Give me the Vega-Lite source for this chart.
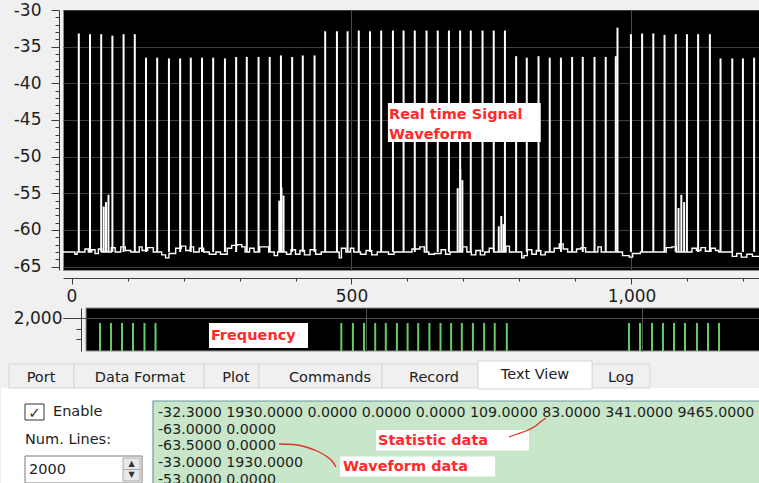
{
  "$schema": "https://vega.github.io/schema/vega-lite/v6.json",
  "background": "#f0f0f0",
  "padding": {"left": 0, "top": 0, "right": 0, "bottom": 0},
  "spacing": 2,
  "config": {
    "font": "DejaVu Sans",
    "axis": {"labelFont": "DejaVu Sans", "labelColor": "#1e1e1e", "domainColor": "#3c3c3c", "tickColor": "#3c3c3c", "gridColor": "#3f3f3f", "gridWidth": 1, "labelFontSize": 17, "labelOverlap": false, "labelBound": false, "labelFlush": false}
  },
  "datasets": {
    "spikes": [
      {"x":13,"y":-33.2},{"x":33,"y":-33.3},{"x":53,"y":-33.3},{"x":73,"y":-33.5},{"x":93,"y":-33.3},{"x":113,"y":-33.3},
      {"x":133,"y":-36.5},{"x":153,"y":-36.5},{"x":174,"y":-36.6},{"x":194,"y":-36.6},{"x":213,"y":-36.5},{"x":233,"y":-36.5},{"x":253,"y":-36.5},{"x":274,"y":-36.6},{"x":294,"y":-36.4},{"x":313,"y":-36.4},{"x":334,"y":-36.4},{"x":354,"y":-36.4},{"x":374,"y":-36.2},{"x":394,"y":-36.4},{"x":413,"y":-36.2},{"x":434,"y":-36.2},
      {"x":453,"y":-32.9},{"x":474,"y":-32.9},{"x":493,"y":-32.9},{"x":513,"y":-32.8},{"x":533,"y":-32.9},{"x":553,"y":-32.8},{"x":574,"y":-32.8},{"x":593,"y":-32.8},{"x":613,"y":-32.8},{"x":634,"y":-32.8},{"x":654,"y":-32.8},{"x":674,"y":-32.8},{"x":694,"y":-32.8},{"x":713,"y":-32.8},{"x":734,"y":-32.8},{"x":754,"y":-32.8},{"x":774,"y":-32.8},
      {"x":794,"y":-36.3},{"x":813,"y":-36.5},{"x":834,"y":-36.3},{"x":854,"y":-36.5},{"x":874,"y":-36.5},{"x":894,"y":-36.4},{"x":913,"y":-36.4},{"x":934,"y":-36.4},{"x":954,"y":-36.4},
      {"x":972,"y":-36.3},{"x":975,"y":-32.4},
      {"x":999,"y":-33.3},{"x":1019,"y":-33.2},{"x":1039,"y":-33.2},{"x":1059,"y":-33.4},{"x":1079,"y":-33.3},{"x":1099,"y":-33.3},{"x":1119,"y":-33.3},{"x":1140,"y":-33.3},
      {"x":1159,"y":-36.6},{"x":1180,"y":-36.6},{"x":1199,"y":-36.6},{"x":1219,"y":-36.5},
      {"x":57.5,"y":-56.8},{"x":61.6,"y":-56.2},{"x":66,"y":-55.2},
      {"x":371,"y":-56.0},{"x":375,"y":-54.2},{"x":378.6,"y":-55.3},
      {"x":689.6,"y":-54.3},{"x":694.3,"y":-51.7},{"x":698,"y":-53.2},
      {"x":763,"y":-59.5},{"x":767.5,"y":-58.1},{"x":771.4,"y":-59.2},
      {"x":1084,"y":-57.0},{"x":1089,"y":-55.2},{"x":1094,"y":-56.2}
    ],
    "baseline": [
      {"x":-16,"y":-63.0},{"x":0,"y":-63.0},{"x":6,"y":-63.3},{"x":10,"y":-63.0},{"x":24,"y":-62.6},{"x":30,"y":-63.0},{"x":36,"y":-62.7},{"x":42,"y":-63.2},{"x":48,"y":-62.6},{"x":54,"y":-63.0},{"x":71,"y":-62.4},{"x":78,"y":-63.0},{"x":88,"y":-62.3},{"x":96,"y":-62.8},{"x":106,"y":-63.0},{"x":121,"y":-62.3},{"x":126,"y":-62.8},{"x":136,"y":-62.4},{"x":146,"y":-63.0},{"x":161,"y":-63.4},{"x":168,"y":-63.8},{"x":174,"y":-63.2},{"x":186,"y":-62.5},{"x":196,"y":-62.2},{"x":204,"y":-62.8},{"x":212,"y":-62.3},{"x":218,"y":-63.0},{"x":228,"y":-62.5},{"x":236,"y":-63.0},{"x":246,"y":-63.3},{"x":258,"y":-63.0},{"x":266,"y":-63.3},{"x":278,"y":-62.5},{"x":286,"y":-62.1},{"x":296,"y":-62.0},{"x":304,"y":-62.3},{"x":310,"y":-63.0},{"x":318,"y":-62.5},{"x":326,"y":-63.0},{"x":336,"y":-62.3},{"x":348,"y":-62.3},{"x":352,"y":-63.0},{"x":362,"y":-63.5},{"x":368,"y":-63.0},{"x":384,"y":-63.3},{"x":392,"y":-62.7},{"x":400,"y":-63.3},{"x":408,"y":-62.8},{"x":416,"y":-63.4},{"x":426,"y":-62.7},{"x":436,"y":-63.3},{"x":446,"y":-63.0},{"x":466,"y":-63.0},{"x":478,"y":-63.8},{"x":482,"y":-62.5},{"x":490,"y":-63.0},{"x":498,"y":-62.5},{"x":504,"y":-63.0},{"x":516,"y":-63.3},{"x":526,"y":-62.8},{"x":536,"y":-63.4},{"x":546,"y":-63.0},{"x":566,"y":-63.3},{"x":576,"y":-63.0},{"x":596,"y":-63.0},{"x":608,"y":-62.6},{"x":622,"y":-62.3},{"x":630,"y":-63.0},{"x":638,"y":-63.3},{"x":648,"y":-63.2},{"x":660,"y":-62.7},{"x":668,"y":-63.3},{"x":676,"y":-63.0},{"x":698,"y":-62.3},{"x":706,"y":-63.0},{"x":714,"y":-63.4},{"x":722,"y":-62.8},{"x":730,"y":-63.4},{"x":738,"y":-63.0},{"x":746,"y":-62.5},{"x":754,"y":-63.0},{"x":776,"y":-62.2},{"x":782,"y":-63.0},{"x":796,"y":-63.0},{"x":804,"y":-63.8},{"x":808,"y":-63.5},{"x":814,"y":-62.7},{"x":822,"y":-63.3},{"x":830,"y":-62.8},{"x":838,"y":-63.4},{"x":846,"y":-63.0},{"x":862,"y":-62.5},{"x":871,"y":-61.9},{"x":878,"y":-62.6},{"x":886,"y":-63.0},{"x":902,"y":-62.6},{"x":910,"y":-62.4},{"x":918,"y":-63.0},{"x":930,"y":-63.0},{"x":940,"y":-62.3},{"x":946,"y":-63.0},{"x":956,"y":-63.0},{"x":984,"y":-63.5},{"x":996,"y":-63.7},{"x":1002,"y":-63.2},{"x":1016,"y":-63.0},{"x":1036,"y":-63.0},{"x":1062,"y":-62.4},{"x":1072,"y":-62.3},{"x":1080,"y":-63.0},{"x":1096,"y":-63.0},{"x":1108,"y":-62.5},{"x":1116,"y":-62.8},{"x":1124,"y":-62.4},{"x":1132,"y":-62.9},{"x":1142,"y":-62.5},{"x":1150,"y":-62.8},{"x":1156,"y":-63.0},{"x":1172,"y":-63.0},{"x":1180,"y":-63.6},{"x":1188,"y":-63.2},{"x":1196,"y":-63.7},{"x":1206,"y":-63.3},{"x":1216,"y":-63.6},{"x":1230,"y":-63.2}
    ],
    "freq": [
      {"x":18.1,"y":1930},{"x":38.0,"y":1930},{"x":58.0,"y":1930},{"x":77.9,"y":1930},{"x":98.7,"y":1930},{"x":118.7,"y":1930},
      {"x":455.3,"y":1930},{"x":476.3,"y":1930},{"x":496.4,"y":1930},{"x":516.7,"y":1930},{"x":535.9,"y":1930},{"x":556.0,"y":1930},{"x":575.4,"y":1930},{"x":594.6,"y":1930},{"x":614.9,"y":1930},{"x":635.0,"y":1930},{"x":654.2,"y":1930},{"x":673.6,"y":1930},{"x":693.7,"y":1930},{"x":714.0,"y":1930},{"x":733.2,"y":1930},{"x":755.1,"y":1930},
      {"x":976.4,"y":1930},{"x":996.4,"y":1930},{"x":1018.1,"y":1930},{"x":1038.0,"y":1930},{"x":1058.0,"y":1930},{"x":1077.9,"y":1930},{"x":1099.6,"y":1930},{"x":1119.6,"y":1930},{"x":1139.5,"y":1930}
    ]
  },
  "vconcat": [
    {
      "width": 697,
      "height": 260,
      "view": {"fill": "#000000", "stroke": "#8f8f8f", "strokeWidth": 1},
      "encoding": {
        "x": {"field": "x", "type": "quantitative",
          "scale": {"domain": [-15.2, 1229.5], "nice": false, "zero": false},
          "axis": {"title": null, "values": [0,100,200,300,400,500,600,700,800,900,1000,1100,1200],
            "labelExpr": "datum.value % 500 === 0 ? format(datum.value, ',') : ''",
            "tickSize": {"condition": {"test": "datum.value % 500 === 0", "value": 6}, "value": 3},
            "grid": true,
            "gridOpacity": {"condition": {"test": "datum.value === 500 || datum.value === 1000", "value": 1}, "value": 0},
            "gridColor": "#4a4a4a",
            "offset": 8, "labelPadding": 4}},
        "y": {"field": "y", "type": "quantitative",
          "scale": {"domain": [-65.457, -30], "nice": false, "zero": false},
          "axis": {"title": null, "values": [-65,-64,-63,-62,-61,-60,-59,-58,-57,-56,-55,-54,-53,-52,-51,-50,-49,-48,-47,-46,-45,-44,-43,-42,-41,-40,-39,-38,-37,-36,-35,-34,-33,-32,-31,-30],
            "labelExpr": "datum.value % 5 === 0 ? toString(datum.value) : ''",
            "tickSize": {"condition": {"test": "datum.value % 5 === 0", "value": 8}, "value": 4},
            "grid": true,
            "gridOpacity": {"condition": {"test": "datum.value % 5 === 0", "value": 1}, "value": 0},
            "offset": 4, "labelPadding": 10, "minExtent": 58}}
      },
      "layer": [
        {"data": {"name": "baseline"}, "mark": {"type": "line", "color": "#ffffff", "strokeWidth": 1.4, "interpolate": "step-after", "clip": true}},
        {"data": {"name": "spikes"}, "mark": {"type": "rule", "color": "#ffffff", "strokeWidth": 2, "clip": true}, "encoding": {"y2": {"datum": -63}}},
        {"data": {"values": [{"x": 565, "x2": 838, "y": -42.68, "y2": -48.0}]}, "mark": {"type": "rect", "fill": "#ffffff"}, "encoding": {"x2": {"field": "x2"}, "y2": {"field": "y2"}}},
        {"data": {"values": [{"x": 567, "y": -44.3, "t": "Real time Signal"}, {"x": 567, "y": -47.05, "t": "Waveform"}]}, "mark": {"type": "text", "align": "left", "baseline": "middle", "font": "DejaVu Sans", "fontWeight": "bold", "fontSize": 14.5, "color": "#ff2a2a"}, "encoding": {"text": {"field": "t"}}}
      ]
    },
    {
      "width": 697,
      "height": 43,
      "view": {"stroke": null},
      "encoding": {
        "x": {"field": "x", "type": "quantitative",
          "scale": {"domain": [-48.9, 1213.8], "nice": false, "zero": false},
          "axis": {"title": null, "values": [500, 1000], "grid": true, "labels": false, "ticks": false, "domain": false, "minExtent": 0, "maxExtent": 0, "gridColor": "#555555", "zindex": 1}},
        "y": {"field": "y", "type": "quantitative",
          "scale": {"domain": [1538, 2140], "nice": false, "zero": false},
          "axis": {"title": null, "values": [1700, 1850, 2000],
            "labelExpr": "datum.value === 2000 ? '2,000' : ''",
            "tickSize": {"condition": {"test": "datum.value === 2000", "value": 18}, "value": 5},
            "grid": true,
            "gridOpacity": {"condition": {"test": "datum.value === 2000", "value": 1}, "value": 0},
            "gridColor": "#4a4a4a",
            "offset": -18, "labelPadding": 1, "minExtent": 0, "zindex": 1}}
      },
      "layer": [
        {"data": {"values": [{"x": -7.2, "x2": 1213.8, "y": 1538, "y2": 2140}]}, "mark": {"type": "rect", "fill": "#000000", "stroke": "#8f8f8f", "strokeWidth": 1}, "encoding": {"x2": {"field": "x2"}, "y2": {"field": "y2"}}},
        {"data": {"name": "freq"}, "mark": {"type": "rule", "color": "#62cd62", "strokeWidth": 2, "clip": true}, "encoding": {"y2": {"datum": 1538}}},
        {"data": {"values": [{"x": 215.6, "x2": 395, "y": 1930, "y2": 1580}]}, "mark": {"type": "rect", "fill": "#ffffff"}, "encoding": {"x2": {"field": "x2"}, "y2": {"field": "y2"}}},
        {"data": {"values": [{"x": 219, "y": 1755, "t": "Frequency"}]}, "mark": {"type": "text", "align": "left", "baseline": "middle", "font": "DejaVu Sans", "fontWeight": "bold", "fontSize": 14.5, "color": "#ff2a2a"}, "encoding": {"text": {"field": "t"}}}
      ]
    },
    {
      "width": 697,
      "height": 131,
      "view": {"stroke": null},
      "encoding": {
        "x": {"field": "x", "type": "quantitative", "scale": {"domain": [62, 759], "nice": false, "zero": false}, "axis": null},
        "y": {"field": "y", "type": "quantitative", "scale": {"domain": [352, 483], "nice": false, "zero": false, "reverse": true}, "axis": null}
      },
      "layer": [
        {"data": {"values": [{"x": 0, "x2": 759, "y": 386, "y2": 483}]}, "mark": {"type": "rect", "fill": "#ffffff"}, "encoding": {"x2": {"field": "x2"}, "y2": {"field": "y2"}}},
        {"data": {"values": [
            {"x": 8, "x2": 73, "y": 362, "y2": 386},
            {"x": 73, "x2": 203, "y": 362, "y2": 386},
            {"x": 203, "x2": 258, "y": 362, "y2": 386},
            {"x": 258, "x2": 381, "y": 362, "y2": 386},
            {"x": 381, "x2": 477, "y": 362, "y2": 386},
            {"x": 591, "x2": 649, "y": 362, "y2": 386}]},
          "mark": {"type": "rect", "fill": "#f0f0f0", "stroke": "#d6d6d6", "strokeWidth": 1}, "encoding": {"x2": {"field": "x2"}, "y2": {"field": "y2"}}},
        {"data": {"values": [{"x": 477, "x2": 591, "y": 359, "y2": 387}]}, "mark": {"type": "rect", "fill": "#ffffff", "stroke": "#d6d6d6", "strokeWidth": 1}, "encoding": {"x2": {"field": "x2"}, "y2": {"field": "y2"}}},
        {"data": {"values": [
            {"x": 40, "y": 375.5, "t": "Port"},
            {"x": 139, "y": 375.5, "t": "Data Format"},
            {"x": 235, "y": 375.5, "t": "Plot"},
            {"x": 329, "y": 375.5, "t": "Commands"},
            {"x": 433, "y": 375.5, "t": "Record"},
            {"x": 534, "y": 373, "t": "Text View"},
            {"x": 620, "y": 375.5, "t": "Log"}]},
          "mark": {"type": "text", "align": "center", "baseline": "middle", "font": "DejaVu Sans", "fontSize": 14.5, "color": "#222222"}, "encoding": {"text": {"field": "t"}}},
        {"data": {"values": [{"x": 24, "x2": 43, "y": 402, "y2": 418}]}, "mark": {"type": "rect", "fill": "#ffffff", "stroke": "#333333", "strokeWidth": 1}, "encoding": {"x2": {"field": "x2"}, "y2": {"field": "y2"}}},
        {"data": {"values": [{"x": 33.5, "y": 410.5, "t": "✓"}]}, "mark": {"type": "text", "align": "center", "baseline": "middle", "font": "DejaVu Sans", "fontSize": 15, "color": "#333333"}, "encoding": {"text": {"field": "t"}}},
        {"data": {"values": [{"x": 24, "x2": 141, "y": 454, "y2": 481}]}, "mark": {"type": "rect", "fill": "#ffffff", "stroke": "#7a7a7a", "strokeWidth": 1}, "encoding": {"x2": {"field": "x2"}, "y2": {"field": "y2"}}},
        {"data": {"values": [{"x": 122, "x2": 139, "y": 456, "y2": 467.5}, {"x": 122, "x2": 139, "y": 467.5, "y2": 479}]}, "mark": {"type": "rect", "fill": "#e8e8e8", "stroke": "#a9a9a9", "strokeWidth": 1}, "encoding": {"x2": {"field": "x2"}, "y2": {"field": "y2"}}},
        {"data": {"values": [{"x": 130.5, "y": 461.5, "t": "▲"}, {"x": 130.5, "y": 473, "t": "▼"}]}, "mark": {"type": "text", "align": "center", "baseline": "middle", "font": "DejaVu Sans", "fontSize": 8, "color": "#333333"}, "encoding": {"text": {"field": "t"}}},
        {"data": {"values": [{"x": 52, "y": 410, "t": "Enable"}, {"x": 24, "y": 438, "t": "Num. Lines:"}, {"x": 28, "y": 467.5, "t": "2000"}]}, "mark": {"type": "text", "align": "left", "baseline": "middle", "font": "DejaVu Sans", "fontSize": 14.5, "color": "#222222"}, "encoding": {"text": {"field": "t"}}},
        {"data": {"values": [{"x": 152, "x2": 770, "y": 399, "y2": 490}]}, "mark": {"type": "rect", "fill": "#c8e6c9", "stroke": "#6f98a0", "strokeWidth": 1.2, "clip": true}, "encoding": {"x2": {"field": "x2"}, "y2": {"field": "y2"}}},
        {"data": {"values": [
            {"x": 157, "y": 410.5, "t": "-32.3000 1930.0000 0.0000 0.0000 0.0000 109.0000 83.0000 341.0000 9465.0000"},
            {"x": 157, "y": 427.5, "t": "-63.0000 0.0000"},
            {"x": 157, "y": 444, "t": "-63.5000 0.0000"},
            {"x": 157, "y": 461, "t": "-33.0000 1930.0000"},
            {"x": 157, "y": 478, "t": "-53.0000 0.0000"}]},
          "mark": {"type": "text", "align": "left", "baseline": "middle", "font": "DejaVu Sans", "fontSize": 14.2, "color": "#1e1e1e", "clip": true}, "encoding": {"text": {"field": "t"}}},
        {"data": {"values": [{"x": 375, "x2": 528, "y": 428, "y2": 448.5}, {"x": 339, "x2": 494, "y": 454.5, "y2": 474.5}]}, "mark": {"type": "rect", "fill": "#ffffff"}, "encoding": {"x2": {"field": "x2"}, "y2": {"field": "y2"}}},
        {"data": {"values": [{"x": 377, "y": 438.5, "t": "Statistic data"}, {"x": 342, "y": 465, "t": "Waveform data"}]}, "mark": {"type": "text", "align": "left", "baseline": "middle", "font": "DejaVu Sans", "fontWeight": "bold", "fontSize": 14.5, "color": "#ff2a2a"}, "encoding": {"text": {"field": "t"}}},
        {"data": {"values": [
            {"c": "s", "x": 508, "y": 435}, {"c": "s", "x": 516, "y": 432}, {"c": "s", "x": 525, "y": 429}, {"c": "s", "x": 533, "y": 425}, {"c": "s", "x": 540, "y": 419.5}, {"c": "s", "x": 545, "y": 416},
            {"c": "w", "x": 278, "y": 442}, {"c": "w", "x": 292, "y": 442.5}, {"c": "w", "x": 305, "y": 445}, {"c": "w", "x": 316, "y": 449}, {"c": "w", "x": 325, "y": 454}, {"c": "w", "x": 331, "y": 459}, {"c": "w", "x": 335, "y": 465}]},
          "mark": {"type": "line", "color": "#e0302c", "strokeWidth": 1.3, "interpolate": "monotone"}, "encoding": {"detail": {"field": "c"}}}
      ]
    }
  ]
}
